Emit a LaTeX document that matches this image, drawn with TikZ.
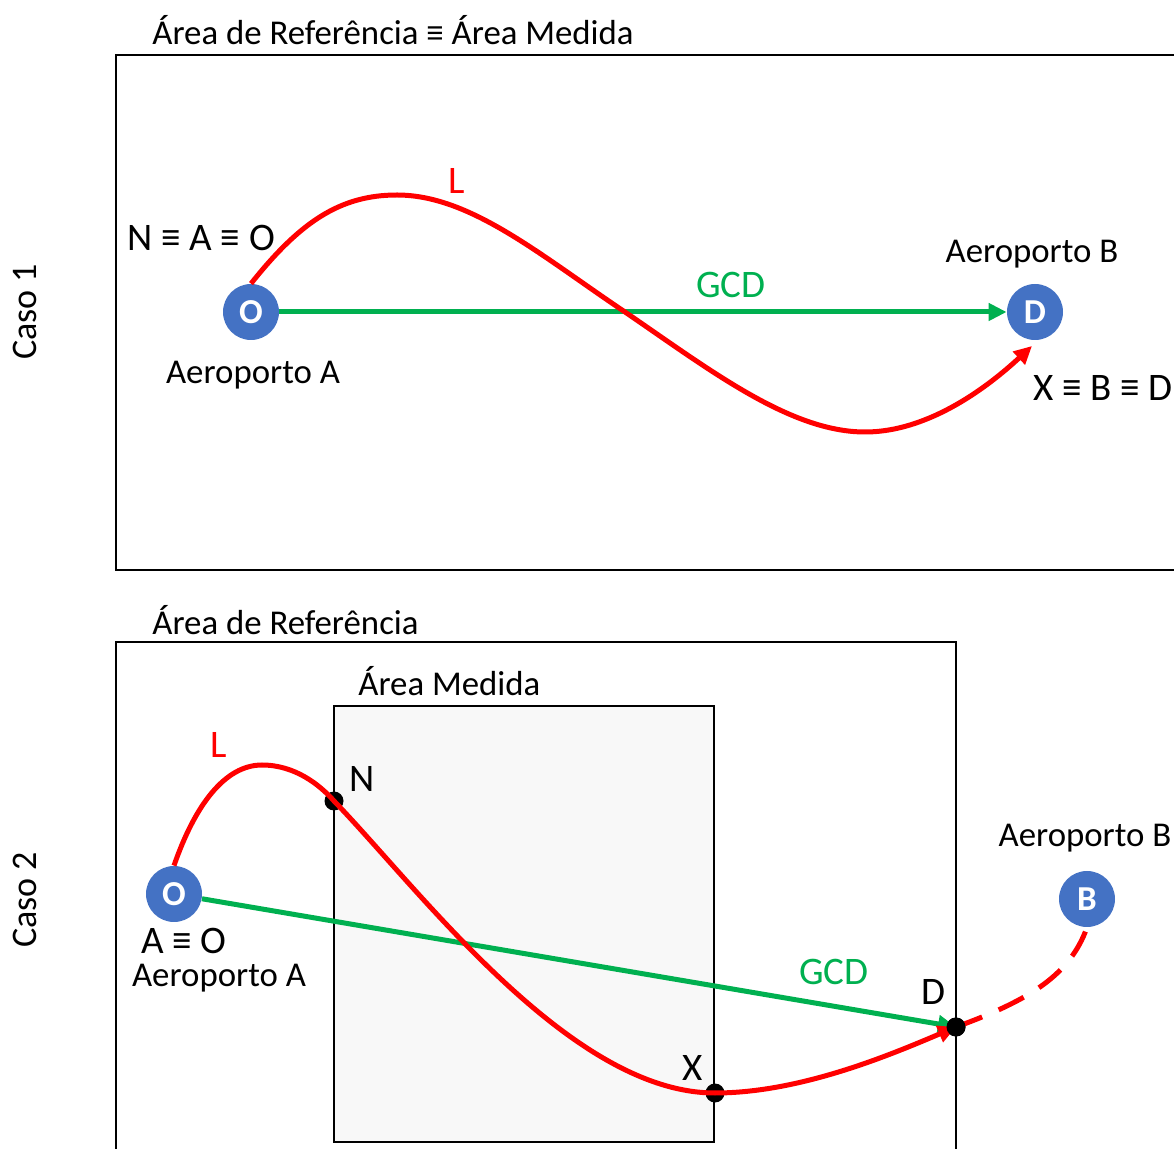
\documentclass[tikz,border=0pt]{standalone}
\usepackage{fontspec}
\setmainfont{Carlito}
\usetikzlibrary{arrows.meta,positioning}
\definecolor{Blue}{HTML}{4472C4}
\definecolor{Red}{HTML}{FF0000}
\definecolor{Green}{HTML}{00B050}
\definecolor{BoxGray}{HTML}{F8F8F8}
\tikzset{
  airport/.style={circle, fill=Blue, text=white, font=\fontsize{17.5}{17.5}\selectfont\bfseries,
    minimum size=28pt, inner sep=0pt},
  waypoint/.style={circle, fill=black, minimum size=9.5pt, inner sep=0pt},
  areabox/.style={draw=black, line width=1pt},
  plaintext/.style={font=\fontsize{17.4}{17.4}\selectfont, inner sep=0pt},
  bigtext/.style={font=\fontsize{19.5}{19.5}\selectfont, inner sep=0pt},
  casetext/.style={font=\fontsize{18}{18}\selectfont, rotate=90},
  redtext/.style={bigtext, text=Red},
  greentext/.style={bigtext, text=Green},
  routeline/.style={draw=Red, line width=2.5pt},
  gcdline/.style={draw=Green, line width=2.5pt},
  tip/.style={-{Triangle[length=9pt,width=8.5pt]}},
}
\begin{document}
\begin{tikzpicture}[x=0.5pt, y=-0.5pt]
  \useasboundingbox (0,0) rectangle (1174,1149);
  % Caso 1
  \draw[areabox] (1190,55) -- (116,55) -- (116,570) -- (1190,570);
  \node[plaintext, anchor=west] (title1) at (152,30) {Área de Referência ≡ Área Medida};
  \node[casetext] (caso1) at (25,312) {Caso 1};
  \node[airport] (O1) at (251,312) {O};
  \node[airport] (D1) at (1035,312) {D};
  \coordinate (end1) at (1032,346);
  \draw[gcdline, tip] (O1) -- (D1);
  \draw[routeline, tip] (O1.north) .. controls (300,222) and (340,195) .. (397,195)
    .. controls (470,195) and (540,255) .. (625,312)
    .. controls (710,370) and (790,432) .. (865,432)
    .. controls (930,432) and (990,385) .. (end1);
  \node[redtext] (L1) at (457,181) {L};
  \node[greentext] (gcd1) at (731,285) {GCD};
  \node[bigtext] (nao) at (201,238) {N ≡ A ≡ O};
  \node[plaintext] (aptA1) at (253,375) {Aeroporto A};
  \node[plaintext] (aptB1) at (1032,254) {Aeroporto B};
  \node[bigtext, anchor=west] (xbd) at (1033,388) {X ≡ B ≡ D};
  % Caso 2
  \draw[areabox] (116,1160) -- (116,642) -- (956,642) -- (956,1160);
  \filldraw[areabox, fill=BoxGray] (334,1142) rectangle (714,706);
  \node[plaintext, anchor=west] (title2) at (152,620) {Área de Referência};
  \node[plaintext, anchor=west] (title3) at (358,681) {Área Medida};
  \node[casetext] (caso2) at (25,900) {Caso 2};
  \node[airport] (O2) at (174,894) {O};
  \node[airport] (B2) at (1087,899) {B};
  \node[waypoint] (N2) at (334,801) {};
  \node[waypoint] (X2) at (715,1093) {};
  \node[waypoint] (D2) at (956,1027) {};
  \draw[gcdline, tip] (O2) -- (D2.center);
  \draw[routeline] (O2.north) .. controls (195,805) and (225,765) .. (262,765)
    .. controls (295,765) and (320,785) .. (N2.center)
    .. controls (420,890) and (570,1093) .. (X2.center);
  \draw[routeline, tip] (X2.center) .. controls (800,1093) and (890,1055) .. (D2.center);
  \draw[routeline, dashed, dash pattern=on 14pt off 9pt] (D2.center)
    .. controls (1030,1000) and (1070,975) .. (B2.south);
  \node[waypoint] at (D2) {};
  \node[redtext] (L2) at (219,745) {L};
  \node[greentext] (gcd2) at (834,972) {GCD};
  \node[bigtext] (nlbl) at (362,779) {N};
  \node[bigtext] (xlbl) at (693,1068) {X};
  \node[bigtext] (dlbl) at (933,992) {D};
  \node[bigtext] (ao) at (184,941) {A ≡ O};
  \node[plaintext] (aptA2) at (219,978) {Aeroporto A};
  \node[plaintext] (aptB2) at (1085,838) {Aeroporto B};
\end{tikzpicture}
\end{document}
